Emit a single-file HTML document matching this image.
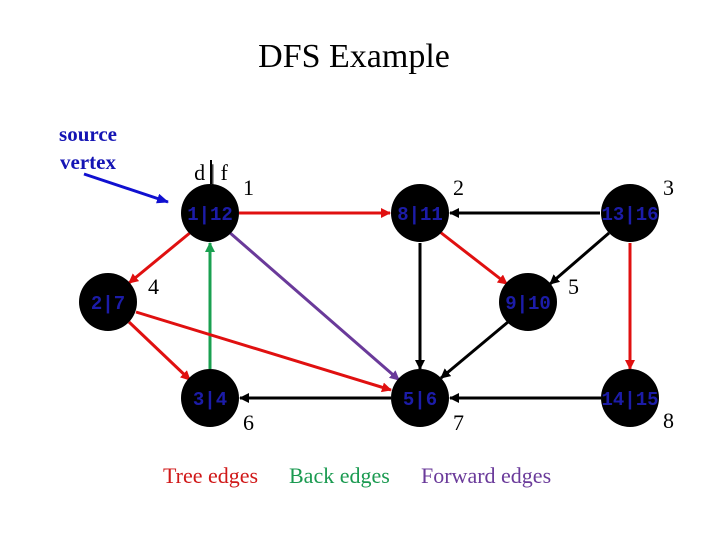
<!DOCTYPE html>
<html><head><meta charset="utf-8"><style>
body{margin:0;background:#fff;width:720px;height:540px;overflow:hidden}
svg{display:block}
.t{font-family:"Liberation Serif",serif}
.n{font-family:"Liberation Mono",monospace;font-weight:bold;font-size:19px;fill:#1c1ca8}
</style></head><body>
<svg width="720" height="540" viewBox="0 0 720 540">
<defs>
<marker id="ak" markerWidth="10" markerHeight="10" refX="9" refY="5" orient="auto" markerUnits="userSpaceOnUse"><path d="M0,0 L10,5 L0,10 Z" fill="#000"/></marker>
<marker id="ar" markerWidth="10" markerHeight="10" refX="9" refY="5" orient="auto" markerUnits="userSpaceOnUse"><path d="M0,0 L10,5 L0,10 Z" fill="#e01010"/></marker>
<marker id="ag" markerWidth="10" markerHeight="10" refX="9" refY="5" orient="auto" markerUnits="userSpaceOnUse"><path d="M0,0 L10,5 L0,10 Z" fill="#1aa050"/></marker>
<marker id="ap" markerWidth="10" markerHeight="10" refX="9" refY="5" orient="auto" markerUnits="userSpaceOnUse"><path d="M0,0 L10,5 L0,10 Z" fill="#6a3a9a"/></marker>
<marker id="ab" markerWidth="12" markerHeight="10" refX="11" refY="5" orient="auto" markerUnits="userSpaceOnUse"><path d="M0,0 L12,5 L0,10 Z" fill="#1010d0"/></marker>
</defs>
<text x="354" y="67" class="t" font-size="34" text-anchor="middle">DFS Example</text>
<text x="88" y="141" class="t" font-size="21" font-weight="bold" fill="#1414b4" text-anchor="middle">source</text>
<text x="88" y="169" class="t" font-size="21" font-weight="bold" fill="#1414b4" text-anchor="middle">vertex</text>
<line x1="84" y1="174" x2="168" y2="202" stroke="#1010d0" stroke-width="3" marker-end="url(#ab)"/>
<text x="211" y="180" class="t" font-size="22" text-anchor="middle">d | f</text>
<g stroke-width="3" fill="none">
<line x1="239" y1="213" x2="390" y2="213" stroke="#e01010" marker-end="url(#ar)"/>
<line x1="191" y1="232" x2="129" y2="283" stroke="#e01010" marker-end="url(#ar)"/>
<line x1="229" y1="232" x2="399" y2="380" stroke="#6a3a9a" marker-end="url(#ap)"/>
<line x1="210" y1="369" x2="210" y2="243" stroke="#1aa050" marker-end="url(#ag)"/>
<line x1="136" y1="312" x2="391" y2="390" stroke="#e01010" marker-end="url(#ar)"/>
<line x1="129" y1="322" x2="190" y2="380" stroke="#e01010" marker-end="url(#ar)"/>
<line x1="391" y1="398" x2="240" y2="398" stroke="#000" marker-end="url(#ak)"/>
<line x1="600" y1="213" x2="450" y2="213" stroke="#000" marker-end="url(#ak)"/>
<line x1="440" y1="232" x2="507" y2="284" stroke="#e01010" marker-end="url(#ar)"/>
<line x1="420" y1="243" x2="420" y2="369" stroke="#000" marker-end="url(#ak)"/>
<line x1="508" y1="322" x2="441" y2="378" stroke="#000" marker-end="url(#ak)"/>
<line x1="609" y1="233" x2="550" y2="284" stroke="#000" marker-end="url(#ak)"/>
<line x1="630" y1="243" x2="630" y2="369" stroke="#e01010" marker-end="url(#ar)"/>
<line x1="601" y1="398" x2="450" y2="398" stroke="#000" marker-end="url(#ak)"/>
</g>
<line x1="211" y1="160" x2="211" y2="184" stroke="#000" stroke-width="2"/>
<g fill="#000">
<circle cx="210" cy="213" r="29"/><circle cx="420" cy="213" r="29"/><circle cx="630" cy="213" r="29"/>
<circle cx="108" cy="302" r="29"/><circle cx="528" cy="302" r="29"/>
<circle cx="210" cy="398" r="29"/><circle cx="420" cy="398" r="29"/><circle cx="630" cy="398" r="29"/>
</g>
<g class="n" text-anchor="middle">
<text x="210" y="220">1|12</text><text x="420" y="220">8|11</text><text x="630" y="220">13|16</text>
<text x="108" y="309">2|7</text><text x="528" y="309">9|10</text>
<text x="210" y="405">3|4</text><text x="420" y="405">5|6</text><text x="630" y="405">14|15</text>
</g>
<g class="t" font-size="22">
<text x="243" y="195">1</text><text x="453" y="195">2</text><text x="663" y="195">3</text>
<text x="148" y="294">4</text><text x="568" y="294">5</text>
<text x="243" y="430">6</text><text x="453" y="430">7</text><text x="663" y="428">8</text>
</g>
<g class="t" font-size="22">
<text x="163" y="483" fill="#d01818">Tree edges</text>
<text x="289" y="483" fill="#1a9a50">Back edges</text>
<text x="421" y="483" fill="#6a3a9a">Forward edges</text>
</g>
</svg>
</body></html>
